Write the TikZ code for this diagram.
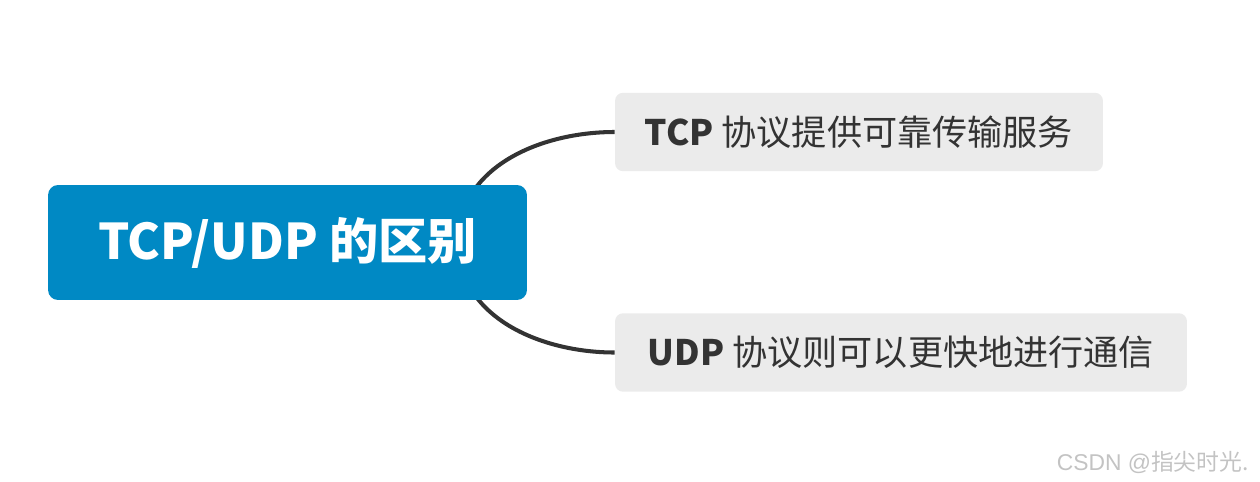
\documentclass[tikz,border=0pt]{standalone}
\usepackage{fontspec}
\setmainfont{Noto Sans CJK SC}
\newfontfamily\latinfont{Liberation Sans}
\usetikzlibrary{positioning}

\definecolor{topicblue}{RGB}{0,137,196}
\definecolor{subgray}{RGB}{235,235,235}
\definecolor{linkgray}{RGB}{51,51,51}
\definecolor{textgray}{RGB}{51,51,51}
\definecolor{markgray}{RGB}{195,195,195}

\begin{document}
\begin{tikzpicture}[x=0.02cm, y=0.02cm,
    topic/.style={rectangle, rounded corners=0.2cm, fill=topicblue, text=white,
        minimum width=9.58cm, minimum height=2.3cm, font=\fontsize{28}{32}\selectfont\bfseries},
    subtopic/.style={rectangle, rounded corners=0.16cm, fill=subgray, text=textgray,
        minimum height=1.57cm, font=\fontsize{20}{24}\selectfont},
    link/.style={draw=linkgray, line width=2.3pt}]
    \useasboundingbox (0,0) rectangle (1260,481);
    \def\hubx{458} % where both branches leave the topic
    \coordinate (hub) at (\hubx,239);
    \node[subtopic, minimum width=9.76cm] (tcpbox) at (859,349) {\textbf{TCP} 协议提供可靠传输服务};
    \node[subtopic, minimum width=11.44cm] (udpbox) at (901,128.5) {\textbf{UDP} 协议则可以更快地进行通信};
    % branches go under the topic box
    \draw[link] (hub) to[out=90, in=180] (tcpbox.west);
    \draw[link] (hub) to[out=-90, in=180] (udpbox.west);
    \node[topic] (mainbox) at (287.5,238.5) {TCP/UDP 的区别};
    \node[text=markgray, anchor=east, font=\fontsize{13}{15}\selectfont] (mark) at (1255,19) {{\latinfont CSDN @}指尖时光.};
\end{tikzpicture}
\end{document}
